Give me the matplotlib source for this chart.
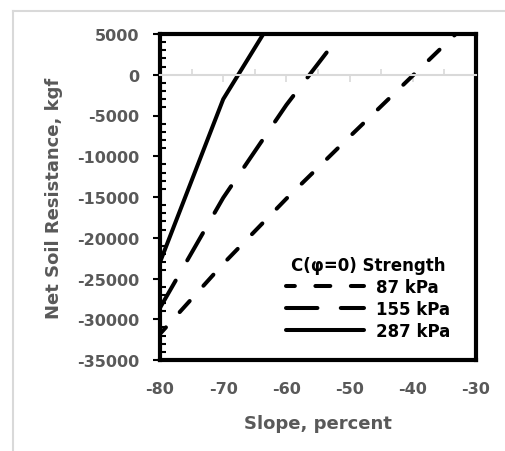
import matplotlib
matplotlib.use("Agg")
import matplotlib.pyplot as plt
from matplotlib.lines import Line2D
from matplotlib.ticker import MultipleLocator, FixedLocator

plt.rcParams['font.family'] = ['DejaVu Sans']
plt.rcParams['axes.unicode_minus'] = False

# data
slope_87 = [-80, -70, -60, -50, -40, -30]
res_87 = [-31800, -23200, -15200, -7600, -100, 7400]
slope_155 = [-80, -70, -60, -50]
res_155 = [-28600, -15100, -3700, 6400]
slope_287 = [-80, -70, -60]
res_287 = [-23000, -3000, 9600]
labels = ['87 kPa', '155 kPa', '287 kPa']
legend_title = 'C(\u03c6=0) Strength'
x_ticks = [-80, -70, -60, -50, -40, -30]

gray = '#595959'
lw = 2.9

fig = plt.figure(figsize=(5.05, 4.52), dpi=100)
ax = fig.add_axes([160 / 505, 1 - 361 / 452, 316 / 505, 326 / 452])

ax.plot(slope_87, res_87, color='black', lw=lw, dash_capstyle='round',
        linestyle=(1.5, (3.7, 5.1)), label=labels[0])
ax.plot(slope_155, res_155, color='black', lw=lw, dash_capstyle='round',
        linestyle=(0, (7.8, 5.8)), label=labels[1])
ax.plot(slope_287, res_287, color='black', lw=lw, solid_capstyle='round',
        label=labels[2])

ax.set_xlim(-80, -30)
ax.set_ylim(-35000, 5000)

# gray axis line through zero, major ticks down, minor ticks up
ax.spines['bottom'].set_position(('data', 0))
ax.spines['bottom'].set_color('#d9d9d9')
ax.spines['bottom'].set_linewidth(1.5)
ax.xaxis.set_major_locator(FixedLocator(x_ticks))
ax.xaxis.set_minor_locator(MultipleLocator(5))
ax.tick_params(axis='x', which='major', direction='out', length=5, width=1.2,
               color='#d9d9d9', labelbottom=False)
ax.tick_params(axis='x', which='minor', direction='in', length=4, width=1.2,
               color='#d9d9d9')

# black frame bottom with the labels at the low end
sec = ax.secondary_xaxis('bottom')
sec.spines['bottom'].set_linewidth(3)
sec.spines['bottom'].set_color('black')
sec.set_xticks(x_ticks)
sec.tick_params(axis='x', length=0, pad=15, labelsize=11.5, labelcolor=gray)
for t in sec.get_xticklabels():
    t.set_fontweight('bold')
sec.set_xlabel('Slope, percent', fontsize=13, fontweight='bold', color=gray,
               labelpad=13)

for s in ['left', 'top', 'right']:
    ax.spines[s].set_linewidth(3)
    ax.spines[s].set_color('black')

ax.yaxis.set_major_locator(MultipleLocator(5000))
ax.yaxis.set_minor_locator(MultipleLocator(1000))
ax.tick_params(axis='y', which='major', direction='out', length=5, width=1.5,
               color='black', pad=10, labelsize=11.5, labelcolor=gray)
ax.tick_params(axis='y', which='minor', direction='in', length=4, width=1.5,
               color='black')
for t in ax.get_yticklabels():
    t.set_fontweight('bold')
ax.set_ylabel('Net Soil Resistance, kgf', fontsize=13, fontweight='bold',
              color=gray, labelpad=10)

leg = ax.legend(title=legend_title, frameon=False, loc='lower right',
                bbox_to_anchor=(0.965, 0.015), handlelength=4.7,
                handletextpad=0.7, labelspacing=0.25,
                prop={'size': 12, 'weight': 'bold'},
                title_fontproperties={'size': 12, 'weight': 'bold'})

# light gray border of the chart area
fig.add_artist(Line2D([13 / 505, 1], [1 - 12 / 452, 1 - 12 / 452],
                      transform=fig.transFigure, color='#d9d9d9', lw=1.5))
fig.add_artist(Line2D([13 / 505, 13 / 505], [0, 1 - 12 / 452],
                      transform=fig.transFigure, color='#d9d9d9', lw=1.5))

fig.savefig('out.png', dpi=100)
